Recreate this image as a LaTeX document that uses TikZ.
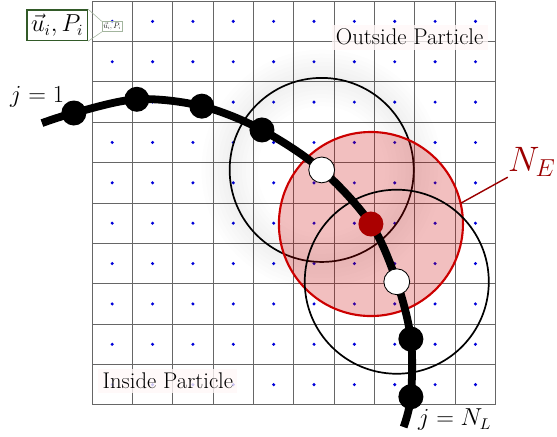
\documentclass[tikz,border=0pt]{standalone}
\usepackage{amsmath, amssymb}
\usepackage{xcolor}
\usepackage{tikz}
\usetikzlibrary{positioning, calc}

\definecolor{darkred}{RGB}{155,0,0}
\definecolor{beadred}{RGB}{170,0,0}
\definecolor{boxgreen}{RGB}{50,90,40}

\begin{document}
\begin{tikzpicture}[
    font=\fontsize{16}{19}\selectfont,
    bead/.style={circle, fill=black, inner sep=0pt, minimum size=0.62cm},
    ghost/.style={circle, fill=white, draw=black, line width=0.6pt, inner sep=0pt, minimum size=0.64cm},
    glowtext/.style={fill=red!3, fill opacity=0.8, text opacity=1, inner sep=3pt},
    nbr/.style={line width=1.2pt}
  ]
  \useasboundingbox (-2.28,-0.79) rectangle (11.52,10.03);

  % Grid with cell centres
  \draw[black!60, line width=0.7pt] (0,0) grid (10,10);
  \foreach \i in {0,...,9}
    \foreach \j in {0,...,9}
      \fill[blue!85!black] (\i+0.5,\j+0.5) circle (0.042);

  % Chain of beads
  \coordinate (c0) at (-1.24,6.98);
  \coordinate (c1) at (-0.45,7.23);
  \coordinate (c2) at (1.11,7.57);
  \coordinate (c3) at (2.72,7.40);
  \coordinate (c4) at (4.21,6.81);
  \coordinate (c5) at (5.69,5.82);
  \coordinate (c6) at (6.91,4.48);
  \coordinate (c7) at (7.55,3.05);
  \coordinate (c8) at (7.90,1.63);
  \coordinate (c9) at (7.90,0.20);
  \coordinate (c10) at (7.72,-0.55);

  % Soft halo round the first circle
  \foreach \w in {0.2,0.4,0.6,0.8,1.0,1.2,1.4}
    \draw[black, opacity=0.008, line width=\w cm] (c5) circle (2.28);

  % Neighbourhoods
  \draw[nbr] (c5) circle (2.28);
  \fill[red!80!black, opacity=0.25] (c6) circle (2.28);
  \draw[red!80!black, line width=1.5pt] (c6) circle (2.28);
  \draw[nbr] (c7) circle (2.28);

  % N_E label
  \coordinate (ne) at ($(c6)+(13:2.28)$);
  \node[text=darkred, anchor=south west, inner sep=0pt, font=\fontsize{25}{30}\selectfont] (nelabel) at (10.3,5.64) {$N_E$};
  \draw[darkred, line width=1pt] (ne) -- (nelabel.south west);

  % Polymer line
  \draw[line width=5.5pt] plot[smooth, tension=0.55] coordinates {(c0) (c1) (c2) (c3) (c4) (c5) (c6) (c7) (c8) (c9) (c10)};
  \node[bead] (b1) at (c1) {};
  \node[bead] (b2) at (c2) {};
  \node[bead] (b3) at (c3) {};
  \node[bead] (b4) at (c4) {};
  \node[ghost] (g1) at (c5) {};
  \node[circle, fill=beadred, inner sep=0pt, minimum size=0.62cm] (pe) at (c6) {};
  \node[ghost] (g2) at (c7) {};
  \node[bead] (b5) at (c8) {};
  \node[bead] (b6) at (c9) {};

  % End labels
  \node (jfirst) at (-1.36,7.62) {$j=1$};
  \node (jlast) at (8.985,-0.37) {$j=N_L$};

  % Regions
  \node[glowtext] (outside) at (7.87,9.11) {Outside Particle};
  \node[glowtext] (inside) at (1.88,0.594) {Inside Particle};

  % Zoomed cell data
  \node[draw=boxgreen, line width=1pt, fill=white, inner sep=3pt] (big) at (-0.866,9.406) {$\vec{u}_i, P_i$};
  \node[draw=boxgreen!45, line width=0.5pt, fill=white, fill opacity=0.6, text opacity=1, inner sep=3pt, scale=0.33, transform shape] (small) at (0.495,9.37) {$\vec{u}_i, P_i$};
  \draw[boxgreen!45] (big.north east) -- (small.north west);
  \draw[boxgreen!45] (big.south east) -- (small.south west);
\end{tikzpicture}
\end{document}
